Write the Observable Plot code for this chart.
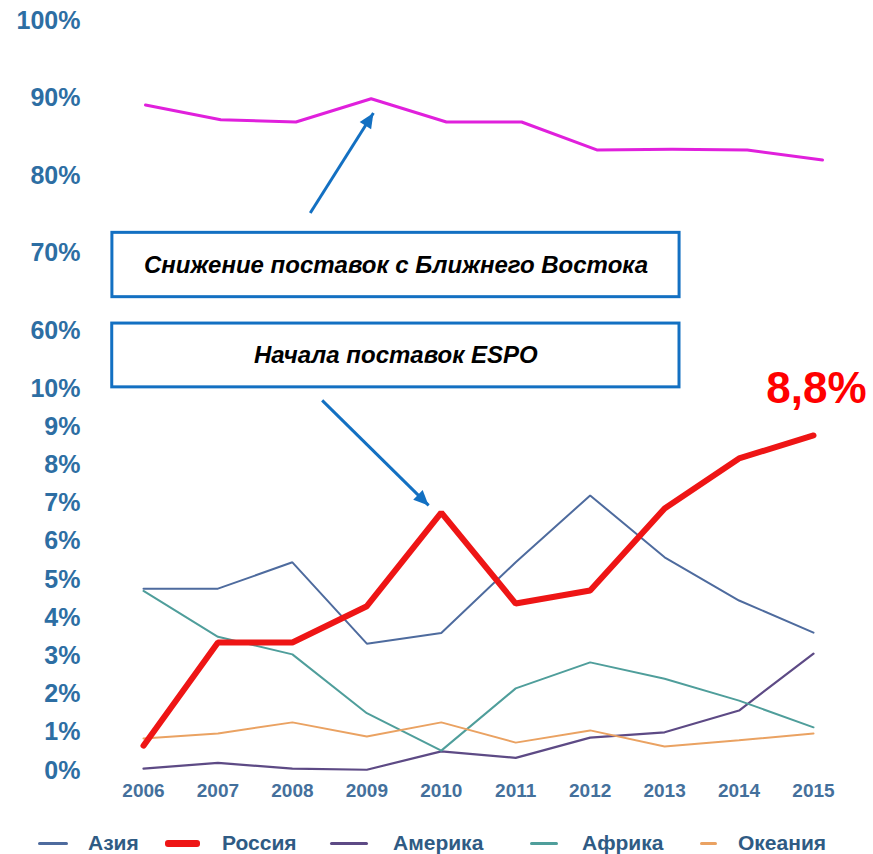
<!DOCTYPE html>
<html>
<head>
<meta charset="utf-8">
<script src="https://cdn.jsdelivr.net/npm/d3@7"></script>
<script src="https://cdn.jsdelivr.net/npm/@observablehq/plot@0.6"></script>
<style>
  body { margin: 0; background: #fff; font-family: "Liberation Sans", Arial, sans-serif; }
  #wrap { position: relative; width: 873px; height: 854px; overflow: hidden; }
  #top, #bottom { position: absolute; left: 0; }
  #top { top: 0; }
  #bottom { top: 310px; }
  #legend { position: absolute; top: 829px; left: 0; width: 873px; height: 28px; }
  .sw { position: absolute; border-radius: 3px; }
  .lt { position: absolute; top: 0; line-height: 28px; font-weight: bold; font-size: 21px; color: #2f5b84; }
</style>
</head>
<body>
<div id="wrap">
  <div id="top"></div>
  <div id="bottom"></div>
  <div id="legend"></div>
</div>
<script>
// ---- data ----
const years = [2006, 2007, 2008, 2009, 2010, 2011, 2012, 2013, 2014, 2015];
const middleEast = [89.1, 87.2, 86.9, 89.9, 86.9, 86.9, 83.3, 83.4, 83.3, 82.0];
const asia    = [4.76, 4.76, 5.45, 3.32, 3.60, 5.45, 7.20, 5.58, 4.45, 3.61];
const russia  = [0.65, 3.35, 3.35, 4.30, 6.75, 4.37, 4.71, 6.86, 8.17, 8.77];
const america = [0.05, 0.20, 0.05, 0.02, 0.50, 0.33, 0.86, 1.00, 1.57, 3.06];
const africa  = [4.70, 3.50, 3.04, 1.50, 0.52, 2.15, 2.83, 2.40, 1.83, 1.13];
const oceania = [0.84, 0.97, 1.26, 0.89, 1.26, 0.73, 1.05, 0.63, 0.79, 0.97];

const seriesNames  = ["Азия", "Россия", "Америка", "Африка", "Океания"];
const seriesColors = ["#4e6b9e", "#ee1515", "#5d4a85", "#4f9e9b", "#eaa262"];
const seriesWidths = [2, 6, 2.2, 2, 2];
const seriesValues = [asia, russia, america, africa, oceania];

const topTicks = [60, 70, 80, 90, 100];
const bottomTicks = [0, 1, 2, 3, 4, 5, 6, 7, 8, 9, 10];

const note1 = "Снижение поставок с Ближнего Востока";
const note2 = "Начала поставок ESPO";
const lastLabel = "8,8%";

// annotation anchors (data coordinates)
const box1 = {x1: 2005.56, x2: 2013.1, y1: 64.3, y2: 72.6, tx: 2009.33, ty: 68.45};
const arrow1 = {x1: 2008.19, y1: 75.16, x2: 2009.03, y2: 88.06};
const box2 = {x1: 2005.58, x2: 2013.2, y1: 10.03, y2: 11.70, tx: 2009.39, ty: 10.86};
const arrow2 = {x1: 2008.40, y1: 9.69, x2: 2009.83, y2: 6.94};

const tickColor = "#2d6ea3";
const boxColor = "#1370c2";

const meData = years.map((x, i) => ({x, y: middleEast[i]}));
const seriesData = seriesNames.map((name, k) =>
  years.map((x, i) => ({x, y: seriesValues[k][i], name})));

function filledArrow(color, context) {
  return d3.create("svg:marker")
    .attr("viewBox", "-10 -5 10 10")
    .attr("markerWidth", 5.5)
    .attr("markerHeight", 5)
    .attr("refX", 0).attr("refY", 0)
    .attr("orient", "auto")
    .attr("fill", color)
    .attr("stroke", "none")
    .call(m => m.append("path").attr("d", "M-10,-4.5L0,0L-10,4.5Z"))
    .node();
}

function arrowMark(a, useMarker) {
  if (useMarker) {
    return Plot.link([a], {x1: "x1", y1: "y1", x2: "x2", y2: "y2",
      stroke: boxColor, strokeWidth: 3, markerEnd: filledArrow});
  }
  return Plot.arrow([a], {x1: "x1", y1: "y1", x2: "x2", y2: "y2",
    stroke: boxColor, strokeWidth: 3, headLength: 14, headAngle: 50});
}

const svgStyle = {background: "transparent", overflow: "visible",
  fontFamily: "'Liberation Sans', Arial, sans-serif", fontWeight: "bold", color: tickColor};

function buildTop(useMarker) {
  return Plot.plot({
    width: 873, height: 350,
    marginLeft: 145, marginRight: 51, marginTop: 20, marginBottom: 20,
    x: {domain: [2006, 2015], axis: null},
    y: {domain: [60, 100], axis: null},
    style: svgStyle,
    marks: [
      Plot.axisY({ticks: topTicks, tickFormat: d => d + "%", tickSize: 0, tickPadding: 65,
        fontSize: 25, label: null, fill: tickColor}),
      Plot.line(meData, {x: "x", y: "y", stroke: "#e020dc", strokeWidth: 3}),
      arrowMark(arrow1, useMarker),
      Plot.rect([box1], {x1: "x1", x2: "x2", y1: "y1", y2: "y2",
        fill: "white", stroke: boxColor, strokeWidth: 3}),
      Plot.text([box1], {x: "tx", y: "ty", text: () => note1, fontSize: 24,
        fontStyle: "italic", fontWeight: "bold", fill: "#000"})
    ]
  });
}

function buildBottom(useMarker) {
  const marks = [
    Plot.axisY({ticks: bottomTicks, tickFormat: d => d + "%", tickSize: 0, tickPadding: 63,
      fontSize: 25, label: null, fill: tickColor}),
    Plot.axisX({ticks: years, tickFormat: d => String(d), tickSize: 0, tickPadding: 13,
      fontSize: 19, label: null, fill: "#44709c"})
  ];
  const order = [0, 2, 3, 4, 1];
  for (const k of order) {
    marks.push(Plot.line(seriesData[k], {x: "x", y: "y", stroke: seriesColors[k],
      strokeWidth: seriesWidths[k], strokeLinejoin: "miter"}));
  }
  marks.push(
    arrowMark(arrow2, useMarker),
    Plot.rect([box2], {x1: "x1", x2: "x2", y1: "y1", y2: "y2",
      fill: "white", stroke: boxColor, strokeWidth: 3}),
    Plot.text([box2], {x: "tx", y: "ty", text: () => note2, fontSize: 24,
      fontStyle: "italic", fontWeight: "bold", fill: "#000"}),
    Plot.text([{x: years[years.length - 1], y: 10.0}], {x: "x", y: "y", text: () => lastLabel,
      fontSize: 44, fontWeight: "bold", fill: "#ff0000", dx: 3})
  );
  return Plot.plot({
    width: 873, height: 505,
    marginLeft: 143, marginRight: 60, marginTop: 78, marginBottom: 45,
    x: {domain: [2006, 2015], axis: null},
    y: {domain: [0, 10], axis: null},
    style: svgStyle,
    marks
  });
}

let topPlot, bottomPlot;
try { topPlot = buildTop(true); } catch (e) { topPlot = buildTop(false); }
try { bottomPlot = buildBottom(true); } catch (e) { bottomPlot = buildBottom(false); }
document.getElementById("top").appendChild(topPlot);
document.getElementById("bottom").appendChild(bottomPlot);

// legend
const legendSwX = [38, 165, 330, 530, 700];
const legendSwW = [30, 35, 38, 28, 17];
const legendTextX = [88, 222, 393, 582, 738];
const legend = document.getElementById("legend");
seriesNames.forEach((name, k) => {
  const sw = document.createElement("span");
  sw.className = "sw";
  const h = k === 1 ? 7 : 3;
  sw.style.left = legendSwX[k] + "px";
  sw.style.width = legendSwW[k] + "px";
  sw.style.height = h + "px";
  sw.style.top = (14 - h / 2) + "px";
  sw.style.background = seriesColors[k];
  legend.appendChild(sw);
  const t = document.createElement("span");
  t.className = "lt";
  t.style.left = legendTextX[k] + "px";
  t.textContent = name;
  legend.appendChild(t);
});
</script>
</body>
</html>
